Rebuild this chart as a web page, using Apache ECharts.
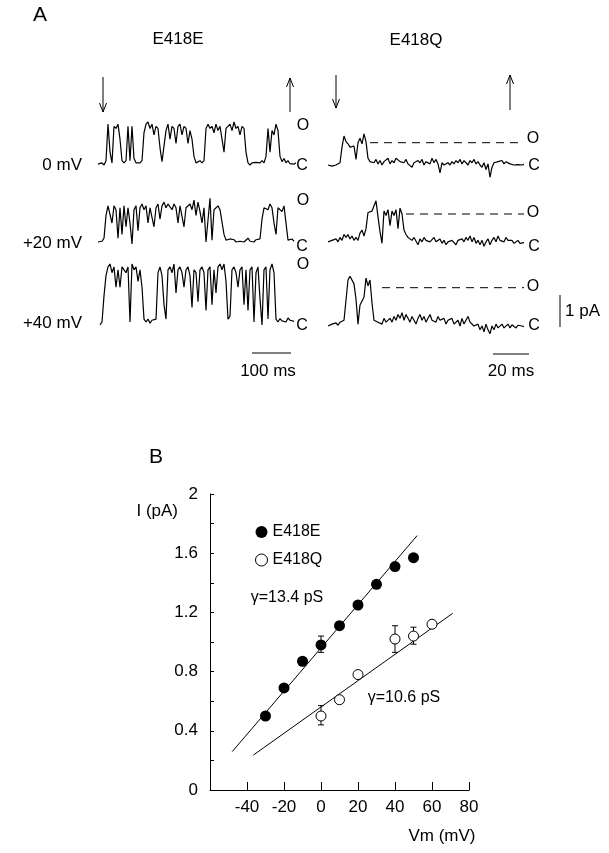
<!DOCTYPE html>
<html>
<head>
<meta charset="utf-8">
<script src="https://cdn.jsdelivr.net/npm/echarts@6/dist/echarts.min.js"></script>
<style>
  html, body { margin: 0; padding: 0; background: #fff; }
  #chart { width: 609px; height: 853px; }
</style>
</head>
<body>
<div id="chart"></div>
<script>
// Panel A: single channel traces, 0 = closed level, 1 = open level
const traceE0 = [0.02,0.0,0.05,0.0,0.1,0.95,0.3,0.05,0.9,0.85,
  0.95,0.6,0.1,0.05,0.1,0.9,0.1,0.9,0.15,0.05,
  0.08,0.05,0.1,0.75,0.95,1.0,0.85,0.95,0.7,0.9,
  0.85,0.4,0.08,0.05,0.8,0.95,0.6,0.9,0.85,0.5,
  0.9,0.95,0.7,0.9,0.85,0.5,0.8,0.6,0.2,0.05,
  0.08,0.1,0.05,0.1,0.85,0.95,0.85,0.9,0.75,0.95,
  0.8,0.9,0.6,0.3,0.85,0.9,0.95,0.8,1.0,0.85,
  0.9,0.7,0.9,0.85,0.3,0.05,0.0,0.05,0.02,0.06,
  0.03,0.05,0.1,0.05,0.2,0.85,0.3,0.8,0.7,0.95,
  0.8,0.2,0.08,0.15,0.05,0.1,0.03,0.07,0.02,0.05];
const traceE20 = [0.0,0.05,0.02,0.1,0.7,0.95,0.9,0.5,0.95,0.85,
  0.1,0.9,0.2,0.95,0.4,0.9,0.5,-0.05,0.85,0.95,
  0.3,0.9,1.0,0.85,0.95,0.5,0.9,0.95,0.4,0.9,
  1.0,0.6,0.95,1.05,0.9,1.0,0.95,0.85,1.0,0.9,
  0.5,0.95,0.9,0.4,0.9,0.95,1.0,0.85,1.1,0.7,
  1.05,0.8,0.5,0.9,0.0,-0.05,1.15,0.05,0.85,0.9,
  0.95,0.85,0.9,0.2,0.05,0.0,0.08,0.03,0.06,0.0,
  0.05,0.02,0.07,0.0,0.05,0.1,0.02,0.05,0.0,0.06,
  0.03,0.08,0.6,0.9,0.95,0.85,1.0,0.9,0.5,0.2,
  0.9,0.95,0.8,0.95,0.9,0.05,0.0,0.08,0.02];
const traceE40 = [-0.05,0.0,0.45,0.8,0.95,1.0,0.85,0.95,0.6,0.9,
  0.6,0.95,0.9,0.85,0.95,0.0,1.0,0.9,0.95,0.7,
  0.9,0.6,0.05,0.0,0.05,-0.02,0.03,0.0,0.05,0.85,
  0.95,0.8,0.3,0.05,0.9,0.95,0.85,1.0,0.5,0.9,
  0.95,0.85,0.6,0.9,0.95,0.8,0.25,0.9,0.85,0.35,
  0.9,0.95,0.85,0.2,0.9,0.95,0.3,0.9,0.5,0.95,
  1.0,0.9,1.0,0.7,0.05,0.1,0.9,0.95,0.85,0.6,
  0.9,0.95,0.3,0.9,0.2,0.9,0.95,0.0,0.85,0.95,
  0.4,-0.05,0.9,0.95,0.05,0.9,1.0,0.85,0.05,0.0,
  0.06,0.02,0.05,0.0,0.07,0.03,0.06,0.01];
const traceQ0 = [0.0,0.05,-0.05,0.03,0.0,-0.03,0.1,0.8,1.3,1.05,
  0.95,0.8,0.75,0.85,0.25,1.0,1.2,0.95,1.4,1.05,
  0.3,0.15,0.2,0.1,0.25,0.05,0.2,0.0,0.15,0.1,
  0.3,0.05,0.2,0.1,0.3,0.35,0.15,0.2,0.1,0.25,
  0.05,0.0,-0.1,0.1,0.05,0.2,0.1,0.25,0.0,0.15,
  0.2,0.05,0.3,0.1,0.25,0.05,-0.35,0.1,0.0,0.05,
  0.1,0.0,0.15,0.05,0.2,0.1,0.25,0.05,0.2,0.15,
  0.0,0.2,0.1,0.25,0.05,0.15,0.0,-0.1,0.1,-0.2,
  0.05,-0.55,-0.1,0.1,0.05,0.15,0.1,0.2,0.05,0.15,
  0.1,0.05,0.1,0.0,0.08,0.02,0.06,0.0,0.03];
const traceQ20 = [0.05,0.0,0.1,0.05,0.15,0.05,0.2,0.1,0.3,0.2,
  0.3,0.15,0.25,0.1,0.2,0.1,0.35,0.45,0.25,0.5,
  1.05,1.0,1.1,1.15,1.45,0.9,0.4,0.0,1.1,0.95,
  1.15,0.6,1.1,0.95,1.15,0.5,1.2,1.0,0.45,0.3,
  0.2,0.25,0.1,0.2,0.15,-0.05,0.15,0.05,0.2,0.1,
  0.15,0.05,0.1,0.2,0.05,0.1,0.15,0.0,0.1,-0.05,
  0.05,0.0,0.1,0.05,-0.05,0.1,0.05,0.15,0.05,0.2,
  0.1,0.25,0.05,0.2,0.0,0.1,-0.05,0.1,-0.1,0.05,
  0.15,-0.05,0.1,0.2,0.05,0.25,0.1,0.15,0.05,0.2,
  0.1,0.05,0.1,0.0,0.05,0.1,0.0,0.05,0.02];
const traceQ40 = [0.0,-0.05,0.05,0.0,0.08,0.02,0.1,0.05,0.15,0.1,
  1.2,1.3,1.25,1.1,0.7,0.05,0.55,0.6,0.75,1.25,
  1.05,1.2,0.6,0.15,0.2,0.1,0.15,0.05,0.2,0.1,
  0.15,0.2,0.1,0.25,0.15,0.3,0.2,0.35,0.15,0.3,
  0.2,0.1,0.25,0.15,0.05,0.2,0.3,0.15,0.25,0.1,
  0.2,0.3,0.15,0.2,0.1,0.25,0.15,0.1,0.2,0.05,
  0.15,0.1,0.2,0.05,0.1,0.15,0.0,0.2,0.05,0.1,
  0.25,0.1,0.15,0.0,-0.05,0.05,-0.1,0.0,-0.15,0.05,
  -0.1,-0.2,0.0,-0.1,0.05,-0.05,0.0,0.05,-0.05,0.0,
  0.05,-0.05,0.03,0.0,-0.05,0.02,-0.03,0.0,-0.02];

// sample spacing in ms (100 ms bar = 39 px, 20 ms bar = 36 px, one sample every 2 px)
const dtE = 5.13;
const dtQ = 1.11;
// sample index where the dashed open level starts on the E418Q traces
const openLineStart = [21, 39, 27];

// Panel B: I-V relation
const vmE = [-30, -20, -10, 0, 10, 20, 30, 40, 50];
const iE = [0.50, 0.69, 0.87, 0.98, 1.11, 1.25, 1.39, 1.51, 1.57];
const vmQ = [0, 10, 20, 40, 50, 60];
const iQ = [0.50, 0.61, 0.78, 1.02, 1.04, 1.12];
const errE = [[0, 0.93, 1.04]];
const errQ = [[0, 0.44, 0.57], [40, 0.93, 1.11], [50, 0.985, 1.10]];
// linear fits: slope (pA/mV), intercept (pA), drawn range (mV)
const fitE = { slope: 0.0146, intercept: 0.96, range: [-48, 52] };
const fitQ = { slope: 0.00889, intercept: 0.561, range: [-36.6, 71.2] };

const font = 'Liberation Sans, Arial, sans-serif';
const ink = '#000';

const traces = [
  { data: traceE0, dt: dtE, left: 98, closed: 165, amp: 43 },
  { data: traceE20, dt: dtE, left: 98, closed: 242, amp: 38 },
  { data: traceE40, dt: dtE, left: 100, closed: 322, amp: 58 },
  { data: traceQ0, dt: dtQ, left: 328, closed: 165, amp: 22.3, open: 0 },
  { data: traceQ20, dt: dtQ, left: 328, closed: 243.3, amp: 29.3, open: 1 },
  { data: traceQ40, dt: dtQ, left: 328, closed: 326, amp: 38.3, open: 2 }
];

const grid = [], xAxis = [], yAxis = [], series = [];

traces.forEach((t, k) => {
  const n = t.data.length;
  grid.push({ left: t.left, top: t.closed - 2 * t.amp, width: (n - 1) * 2, height: 3 * t.amp });
  xAxis.push({ type: 'value', gridIndex: k, min: 0, max: (n - 1) * t.dt, show: false });
  yAxis.push({ type: 'value', gridIndex: k, min: -1, max: 2, show: false });
  series.push({
    type: 'line', xAxisIndex: k, yAxisIndex: k,
    data: t.data.map((v, i) => [i * t.dt, v]),
    symbol: 'none', clip: false,
    lineStyle: { color: ink, width: 1.2 }
  });
  if (t.open !== undefined) {
    series.push({
      type: 'line', xAxisIndex: k, yAxisIndex: k,
      data: [[openLineStart[t.open] * t.dt, 1], [(n - 1) * t.dt, 1]],
      symbol: 'none',
      lineStyle: { color: ink, width: 1, type: [8, 6] }
    });
  }
});

// I-V plot
const ivIndex = traces.length;
grid.push({ left: 210, top: 494, width: 259, height: 296 });
xAxis.push({
  type: 'value', gridIndex: ivIndex, min: -60, max: 80, interval: 20,
  axisLine: { onZero: false, lineStyle: { color: ink, width: 1 } },
  axisTick: { inside: true, length: 8, lineStyle: { color: ink } },
  axisLabel: {
    color: ink, fontSize: 17, fontFamily: font, margin: 9,
    formatter: v => (v === -60 ? '' : String(v))
  },
  splitLine: { show: false }
});
yAxis.push({
  type: 'value', gridIndex: ivIndex, min: 0, max: 2, interval: 0.2,
  axisLine: { show: true, onZero: false, lineStyle: { color: ink, width: 1 } },
  axisTick: { show: true, inside: true, length: 4, lineStyle: { color: ink } },
  axisLabel: {
    color: ink, fontSize: 17, fontFamily: font, margin: 12,
    formatter: v => {
      const k = Math.round(v * 10);
      if (k % 4 !== 0) return '';
      return k === 0 ? '0' : (k === 20 ? '2' : (k / 10).toFixed(1));
    }
  },
  splitLine: { show: false }
});

const fitLine = f => f.range.map(x => [x, f.intercept + f.slope * x]);

const errorBars = data => ({
  type: 'custom', xAxisIndex: ivIndex, yAxisIndex: ivIndex, z: 1,
  data: data,
  renderItem: (params, api) => {
    const x = api.value(0);
    const lo = api.coord([x, api.value(1)]);
    const hi = api.coord([x, api.value(2)]);
    const style = { stroke: ink, lineWidth: 1 };
    return {
      type: 'group',
      children: [
        { type: 'line', shape: { x1: lo[0], y1: lo[1], x2: hi[0], y2: hi[1] }, style },
        { type: 'line', shape: { x1: hi[0] - 3, y1: hi[1], x2: hi[0] + 3, y2: hi[1] }, style },
        { type: 'line', shape: { x1: lo[0] - 3, y1: lo[1], x2: lo[0] + 3, y2: lo[1] }, style }
      ]
    };
  }
});

series.push(
  {
    type: 'line', xAxisIndex: ivIndex, yAxisIndex: ivIndex, z: 1,
    data: fitLine(fitE), symbol: 'none', lineStyle: { color: ink, width: 1 }
  },
  {
    type: 'line', xAxisIndex: ivIndex, yAxisIndex: ivIndex, z: 1,
    data: fitLine(fitQ), symbol: 'none', lineStyle: { color: ink, width: 1 }
  },
  errorBars(errE),
  errorBars(errQ),
  {
    name: 'E418E', type: 'scatter', xAxisIndex: ivIndex, yAxisIndex: ivIndex, z: 3,
    data: vmE.map((v, i) => [v, iE[i]]),
    symbol: 'circle', symbolSize: 11,
    itemStyle: { color: ink, opacity: 1 }
  },
  {
    name: 'E418Q', type: 'scatter', xAxisIndex: ivIndex, yAxisIndex: ivIndex, z: 3,
    data: vmQ.map((v, i) => [v, iQ[i]]),
    symbol: 'circle', symbolSize: 10,
    itemStyle: { color: '#fff', borderColor: ink, borderWidth: 1, opacity: 1 }
  }
);

const chart = echarts.init(document.getElementById('chart'), null, { renderer: 'canvas' });
chart.setOption({
  animation: false,
  backgroundColor: '#fff',
  grid, xAxis, yAxis, series,
  legend: {
    data: [
      { name: 'E418E' },
      { name: 'E418Q', itemStyle: { borderWidth: 1 } }
    ],
    orient: 'vertical', left: 250, top: 519,
    itemWidth: 12, itemHeight: 12, itemGap: 12,
    icon: 'circle',
    textStyle: { color: ink, fontSize: 16, fontFamily: font },
    selectedMode: false
  }
});

// annotations
const txt = (x, y, s, size, align) => ({
  type: 'text', x, y,
  style: {
    text: s, fill: ink, font: size + 'px ' + font,
    textAlign: align || 'center', textVerticalAlign: 'middle'
  }
});
const seg = (x1, y1, x2, y2) => ({
  type: 'line', shape: { x1, y1, x2, y2 }, style: { stroke: ink, lineWidth: 1 }
});
const arrow = (x, from, to) => {
  const d = to > from ? -1 : 1;
  return [seg(x, from, x, to), seg(x - 3.5, to + d * 9, x, to), seg(x + 3.5, to + d * 9, x, to)];
};
const barLen = (k, ms) =>
  chart.convertToPixel({ gridIndex: k }, [ms, 0])[0] - chart.convertToPixel({ gridIndex: k }, [0, 0])[0];

const len100 = barLen(2, 100);
const len20 = barLen(5, 20);

const graphic = [
  txt(40, 15, 'A', 21),
  txt(178, 39, 'E418E', 17),
  txt(416, 40, 'E418Q', 17),
  txt(82, 165, '0 mV', 17, 'right'),
  txt(82, 243, '+20 mV', 17, 'right'),
  txt(82, 323, '+40 mV', 17, 'right'),
  txt(303, 126, 'O', 16), txt(302, 166, 'C', 16),
  txt(303, 201, 'O', 16), txt(302, 247, 'C', 16),
  txt(303, 265, 'O', 16), txt(302, 326, 'C', 16),
  txt(533, 139, 'O', 16), txt(534, 166, 'C', 16),
  txt(533, 213, 'O', 16), txt(534, 247, 'C', 16),
  txt(533, 287, 'O', 16), txt(534, 326, 'C', 16),
  ...arrow(103, 77, 112),
  ...arrow(290, 112, 78),
  ...arrow(336, 75, 108),
  ...arrow(510, 110, 75),
  seg(291 - len100, 353, 291, 353),
  txt(268, 371, '100 ms', 17),
  seg(529 - len20, 354, 529, 354),
  txt(511, 371, '20 ms', 17),
  seg(560, 295, 560, 327),
  txt(565, 311, '1 pA', 17, 'left'),
  txt(156, 457, 'B', 21),
  txt(178, 511, 'I (pA)', 17, 'right'),
  txt(287, 598, '\u03b3=13.4 pS', 16),
  txt(404, 698, '\u03b3=10.6 pS', 16),
  txt(442, 836, 'Vm (mV)', 17)
];
chart.setOption({ graphic });
</script>
</body>
</html>
